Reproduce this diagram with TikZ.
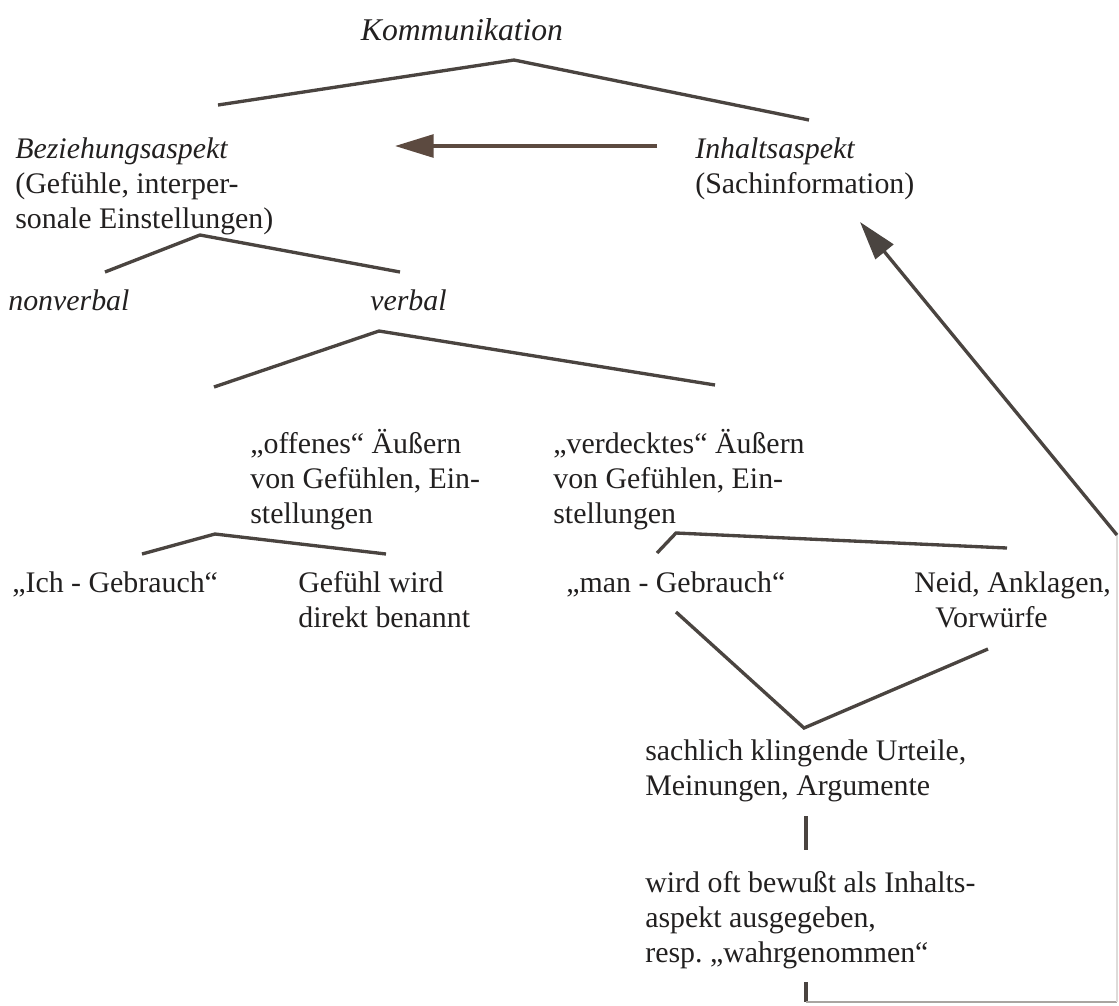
\documentclass[tikz,border=0pt]{standalone}
\usepackage{fontspec}
\setmainfont{Liberation Serif}
\usetikzlibrary{arrows.meta}
\definecolor{ink}{HTML}{222020}
\definecolor{stroke}{HTML}{4A4440}
\definecolor{arrowbrown}{HTML}{5C4A40}
\definecolor{faint}{HTML}{A9A5A1}
\frenchspacing

\begin{document}
\begin{tikzpicture}[x=0.02cm, y=-0.02cm, >={Triangle[length=22pt,width=13pt]}, lbl/.style={anchor=north west, inner sep=0pt, align=left, text=ink, font=\fontsize{17}{20}\selectfont}, branch/.style={draw=stroke, line width=1.9pt}, link/.style={->, draw=arrowbrown, line width=1.9pt}, faintline/.style={draw=faint, line width=1pt}]
\useasboundingbox (0,0) rectangle (1119,1005);
\node[lbl, anchor=center, font=\fontsize{18}{20}\selectfont] (komm) at (462,30) {\textit{Kommunikation}};
\node[lbl] (bez) at (15,137) {\textit{Beziehungsaspekt}\\(Gefühle, interper-\\sonale Einstellungen)};
\node[lbl] (inh) at (695,137) {\textit{Inhaltsaspekt}\\(Sachinformation)};
\node[lbl] (nonv) at (8,289) {\textit{nonverbal}};
\node[lbl] (verb) at (370,289) {\textit{verbal}};
\node[lbl] (offen) at (250,429) {„offenes“ Äußern\\von Gefühlen, Ein-\\stellungen};
\node[lbl] (verd) at (553,429) {„verdecktes“ Äußern\\von Gefühlen, Ein-\\stellungen};
\node[lbl] (ich) at (12,571) {„Ich - Gebrauch“};
\node[lbl] (direkt) at (298,571) {Gefühl wird\\direkt benannt};
\node[lbl] (man) at (566,571) {„man - Gebrauch“};
\node[lbl] (neid) at (914,571) {Neid, Anklagen,\\\hspace*{12pt}Vorwürfe};
\node[lbl] (urteil) at (645,739) {sachlich klingende Urteile,\\Meinungen, Argumente};
\node[lbl] (ausgabe) at (645,871) {wird oft bewußt als Inhalts-\\aspekt ausgegeben,\\resp. „wahrgenommen“};
% branch points
\coordinate (kTop) at (514,60);
\coordinate (kL) at (218,105);
\coordinate (kR) at (809,120);
\coordinate (bTop) at (200,235);
\coordinate (bL) at (105,272);
\coordinate (bR) at (400,272);
\coordinate (vTop) at (379,331);
\coordinate (vL) at (214,387);
\coordinate (vR) at (715,385);
\coordinate (oTop) at (215,534);
\coordinate (oL) at (142,554);
\coordinate (oR) at (386,554);
\coordinate (dTop) at (676,533);
\coordinate (dL) at (657,553);
\coordinate (dR) at (1007,548);
\coordinate (mEnd) at (676,612);
\coordinate (uTop) at (804,728);
\coordinate (nEnd) at (988,649);
\coordinate (uBot) at (806,816);
\coordinate (aTop) at (806,850);
\coordinate (outTop) at (806,982);
\coordinate (outCorner) at (806,1002);
\coordinate (rCorner) at (1117,1002);
\coordinate (rBend) at (1117,535);
\coordinate (inhTip) at (860,222);
\coordinate (aTail) at (657,146);
\coordinate (aHead) at (395,146);
\draw[branch] (kL) -- (kTop) -- (kR);
\draw[link] (aTail) -- (aHead);
\draw[branch] (bL) -- (bTop) -- (bR);
\draw[branch] (vL) -- (vTop) -- (vR);
\draw[branch] (oL) -- (oTop) -- (oR);
\draw[branch] (dL) -- (dTop) -- (dR);
\draw[branch] (mEnd) -- (uTop) -- (nEnd);
\draw[branch] (uBot) -- (aTop);
\draw[branch] (outTop) -- (outCorner);
\draw[faintline] (outCorner) -- (rCorner);
\draw[faintline, draw=faint!40] (rCorner) -- (rBend);
\draw[link, draw=stroke] (rBend) -- (inhTip);
\end{tikzpicture}
\end{document}
